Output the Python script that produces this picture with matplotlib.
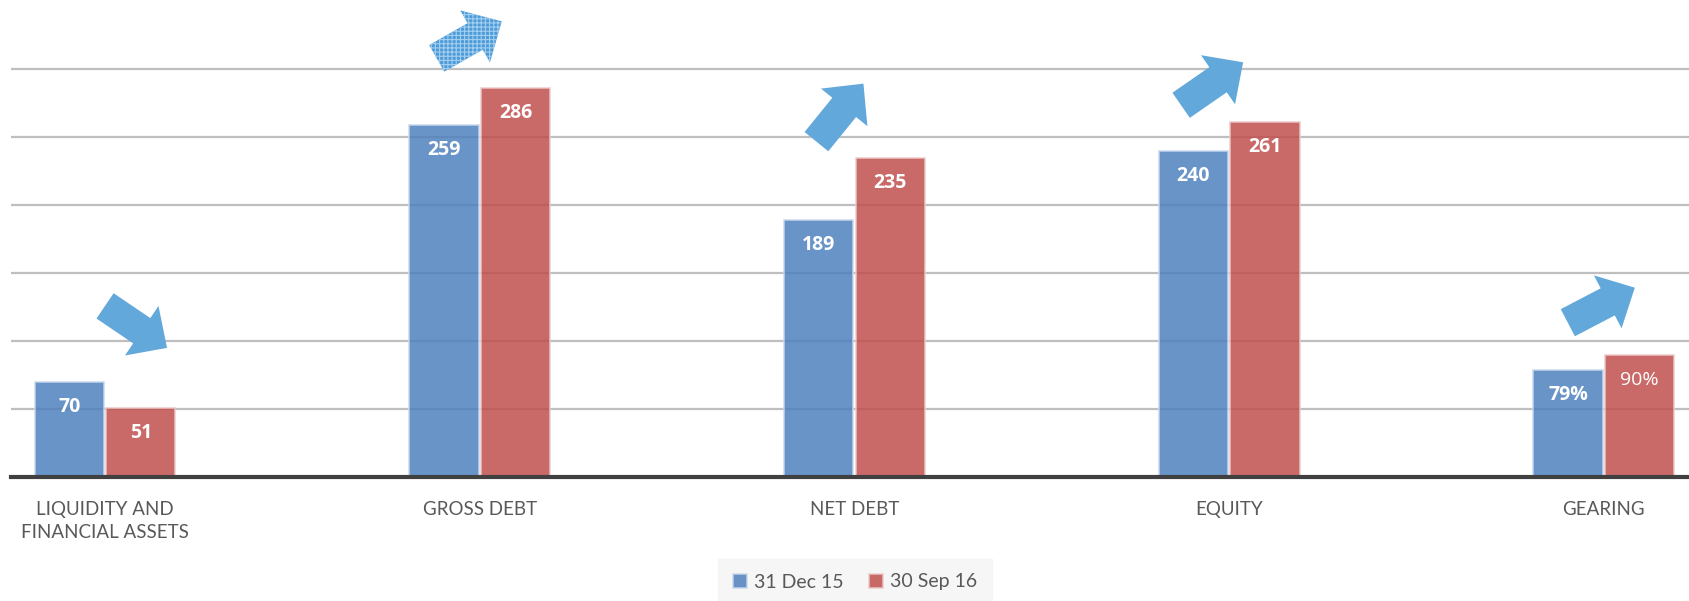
import matplotlib.pyplot as plt
import matplotlib.transforms as mtransforms
import numpy as np

categories = ["LIQUIDITY AND\nFINANCIAL ASSETS", "GROSS DEBT", "NET DEBT", "EQUITY", "GEARING"]
dec15 = [70, 259, 189, 240, 79]
sep16 = [51, 286, 235, 261, 90]
units = ["", "", "", "", "%"]
series_names = ["31 Dec 15", "30 Sep 16"]

# layout of the trend arrows, in pixels: tail offset from the top of the
# taller bar of each group, and the arrow vector (x, |y|)
arrow_tail_px = [(0, 76), (-43, 30), (-38, 16), (-48, 17), (-36, 32)]
arrow_vec_px = [(62, 42), (65, 37), (47, 58), (62, 43), (67, 35)]

blue = "#4f81bd"
red = "#c0504d"
arrow_blue = "#62a8da"
text_grey = "#595959"

plt.rcParams["font.family"] = ["Lato", "DejaVu Sans"]
plt.rcParams["hatch.linewidth"] = 0.8

fig = plt.figure(figsize=(16.9, 6.01), dpi=100)
ax = fig.add_axes([11 / 1690, 124 / 601, 1 - 11 / 1690, 477 / 601])

x = np.arange(len(categories))
w = 0.185
bars1 = ax.bar(x - w / 2 - 0.003, dec15, w, color=blue, alpha=0.85,
               edgecolor="#c9d8ec", linewidth=1.2, zorder=3, label=series_names[0])
bars2 = ax.bar(x + w / 2 + 0.003, sep16, w, color=red, alpha=0.85,
               edgecolor="#eccaca", linewidth=1.2, zorder=3, label=series_names[1])

# value labels inside the bars, near the top
for bars, vals in ((bars1, dec15), (bars2, sep16)):
    for i, (b, v) in enumerate(zip(bars, vals)):
        weight = "normal" if (units[i] == "%" and bars is bars2) else "bold"
        ax.annotate(f"{v}{units[i]}", (b.get_x() + b.get_width() / 2, v),
                    xytext=(0, -18), textcoords="offset points",
                    ha="center", va="center", color="white",
                    fontsize=14, fontweight=weight, zorder=5,
                    family=["Open Sans", "DejaVu Sans"])

ax.set_ylim(0, 351)
ax.set_xlim(-0.251, 4.23)
ax.set_yticks(np.arange(50, 301, 50))
ax.yaxis.grid(True, color="#bfbfbf", linewidth=1.6, zorder=0)
ax.set_axisbelow(True)
ax.tick_params(axis="y", left=False, labelleft=False)
ax.tick_params(axis="x", bottom=False, pad=14)
ax.set_xticks(x)
ax.set_xticklabels(categories, fontsize=13.5, color=text_grey, linespacing=1.4)
for s in ("left", "right", "top"):
    ax.spines[s].set_visible(False)
ax.spines["bottom"].set_color("#404040")
ax.spines["bottom"].set_linewidth(3)
ax.spines["bottom"].set_zorder(4)

# trend arrows above each group
for i in range(len(categories)):
    top = max(dec15[i], sep16[i])
    sign = 1 if sep16[i] > dec15[i] else -1
    tx, ty = arrow_tail_px[i]
    vx, vy = arrow_vec_px[i]
    tail = mtransforms.offset_copy(ax.transData, fig, x=tx, y=ty, units="dots")
    tip = mtransforms.offset_copy(ax.transData, fig, x=tx + vx, y=ty + sign * vy,
                                  units="dots")
    props = dict(arrowstyle="simple,head_length=2.2,head_width=4.3,tail_width=2.2",
                 mutation_scale=10, color=arrow_blue, shrinkA=0, shrinkB=0,
                 linewidth=0)
    if i == 1:
        props.pop("color")
        props.update(facecolor="#4f9bd8", edgecolor="#a3cff0", hatch="++++")
    ax.annotate("", xy=(x[i], top), xycoords=tip,
                xytext=(x[i], top), textcoords=tail,
                arrowprops=props, annotation_clip=False, zorder=6)

leg = fig.legend(loc="center", bbox_to_anchor=(855 / 1690, 1 - 582 / 601),
                 ncol=2, frameon=True, fontsize=14, handlelength=0.75,
                 handleheight=0.75, handletextpad=0.35, columnspacing=1.3,
                 borderpad=0.45)
leg.get_frame().set_facecolor("#f4f4f4")
leg.get_frame().set_edgecolor("#f4f4f4")
leg.get_frame().set_boxstyle("square")
for t in leg.get_texts():
    t.set_color(text_grey)

fig.savefig("out.png", dpi=100)
